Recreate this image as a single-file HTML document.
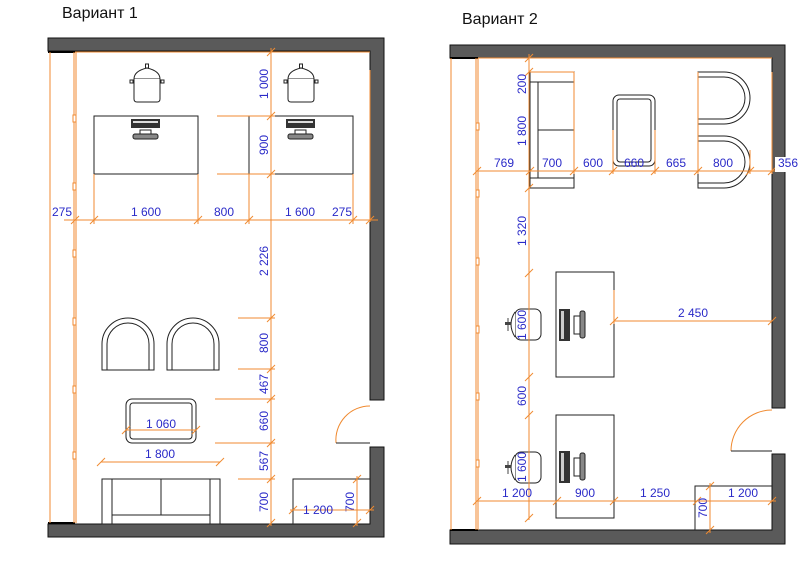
<!DOCTYPE html>
<html><head><meta charset="utf-8"><style>
html,body{margin:0;padding:0;background:#fff;}
svg{display:block;}
text{font-family:"Liberation Sans",sans-serif;}
.t{fill:#2a2ac8;font-size:12px;}
.o{stroke:#f08a30;stroke-width:1;fill:none;}
.k{stroke:#222;stroke-width:1;fill:#fff;}
.w{fill:#5a5a5a;stroke:#111;stroke-width:1;}
</style></head><body>
<svg width="800" height="563" viewBox="0 0 800 563" xmlns="http://www.w3.org/2000/svg">
<defs>
<g id="tick"><line x1="-4" y1="4" x2="4" y2="-4" stroke="#f08a30" stroke-width="1"/></g>
<g id="pot">
<path class="k" d="M-13,8 Q-13,0 0,-3 Q13,0 13,8 Z"/>
<rect x="-1.5" y="-7" width="3" height="4" class="k"/>
<path class="k" d="M-13,8 L-13,28 Q-13,31 -10,31 L10,31 Q13,31 13,28 L13,8"/>
<rect x="-17" y="9" width="3" height="3" class="k"/><rect x="14" y="9" width="3" height="3" class="k"/>
</g>
<g id="pc">
<rect x="-14" y="0" width="29" height="9" fill="#333"/>
<rect x="-12" y="2" width="25" height="2" fill="#ddd"/>
<rect x="-5" y="11" width="11" height="5" class="k"/>
<rect x="-12" y="15" width="25" height="5" rx="2" fill="#888" stroke="#222"/>
</g>
<g id="pcv">
<rect x="0" y="0" width="11" height="32" fill="#333"/>
<rect x="2" y="2" width="3" height="28" fill="#ccc"/>
<rect x="15" y="7" width="6" height="18" class="k"/>
<rect x="21" y="2" width="5" height="27" rx="2" fill="#888" stroke="#222"/>
</g>
<g id="arm">
<path class="k" d="M0,52 L0,26 A26,26 0 0 1 52,26 L52,52 Z"/>
<path fill="none" stroke="#222" d="M5,52 L5,26 A21,21 0 0 1 47,26 L47,52"/>
</g>
<g id="armr">
<path class="k" d="M0,0 L26,0 A26,26 0 0 1 26,52 L0,52 Z"/>
<path fill="none" stroke="#222" d="M0,5 L26,5 A21,21 0 0 1 26,47 L0,47"/>
</g>
<g id="chair">
<rect x="10" y="0" width="26" height="31" rx="6" class="k"/>
<path d="M10,3 Q2,15 10,28" class="k"/>
<rect x="0" y="13" width="6" height="3" fill="#444"/>
<line x1="3" y1="9" x2="3" y2="22" stroke="#444"/>
</g>
</defs>

<!-- ===== Variant 1 ===== -->
<text x="62" y="18" font-size="16" fill="#111">Вариант 1</text>
<!-- walls -->
<path class="w" d="M48,38 L384,38 L384,400 L370,400 L370,51 L48,51 Z"/>
<path class="w" d="M370,447 L384,447 L384,537 L48,537 L48,524 L370,524 Z"/>
<line x1="48" y1="52" x2="75" y2="52" stroke="#000" stroke-width="2"/>
<line x1="48" y1="523" x2="75" y2="523" stroke="#000" stroke-width="2"/>
<!-- window -->
<line class="o" x1="50" y1="52" x2="50" y2="523"/>
<line class="o" x1="74" y1="52" x2="74" y2="523"/>
<line class="o" x1="76" y1="52" x2="76" y2="523"/>
<g fill="#fff" stroke="#f08a30"><rect x="73" y="115" width="3" height="7"/><rect x="73" y="183" width="3" height="7"/><rect x="73" y="250" width="3" height="7"/><rect x="73" y="318" width="3" height="7"/><rect x="73" y="386" width="3" height="7"/><rect x="73" y="452" width="3" height="7"/></g>
<line class="o" x1="75" y1="52" x2="370" y2="52"/>
<line class="o" x1="370" y1="70" x2="370" y2="222"/>
<!-- furniture -->
<use href="#pot" x="147" y="71"/><use href="#pot" x="301" y="71"/>
<rect class="k" x="94" y="116" width="104" height="58"/>
<rect class="k" x="249" y="116" width="104" height="58"/>
<use href="#pc" x="145" y="119"/><use href="#pc" x="300" y="119"/>
<use href="#arm" x="102" y="318"/><use href="#arm" x="167" y="318"/>
<rect class="k" x="126" y="399" width="70" height="44" rx="6"/>
<rect class="k" x="130" y="403" width="62" height="36" rx="3"/>
<rect class="k" x="102" y="479" width="118" height="45"/>
<line stroke="#222" x1="112" y1="479" x2="112" y2="524"/><line stroke="#222" x1="210" y1="479" x2="210" y2="524"/>
<line stroke="#222" x1="112" y1="515" x2="210" y2="515"/><line stroke="#222" x1="161" y1="479" x2="161" y2="515"/>
<path fill="#fff" stroke="#222" d="M293,524 L293,479 L370,479"/>
<!-- door -->
<path class="o" d="M336,443 A34,34 0 0 1 370,406"/>
<line stroke="#222" x1="336" y1="443" x2="370" y2="443"/>
<!-- dims -->
<line class="o" x1="64" y1="220" x2="378" y2="220"/>
<line class="o" x1="94" y1="174" x2="94" y2="224"/><line class="o" x1="198" y1="174" x2="198" y2="224"/>
<line class="o" x1="249" y1="174" x2="249" y2="224"/><line class="o" x1="353" y1="174" x2="353" y2="224"/>
<use href="#tick" x="75" y="220"/><use href="#tick" x="94" y="220"/><use href="#tick" x="198" y="220"/><use href="#tick" x="249" y="220"/><use href="#tick" x="353" y="220"/><use href="#tick" x="370" y="220"/>
<g class="t" text-anchor="middle"><text x="62" y="216">275</text><text x="146" y="216">1 600</text><text x="224" y="216">800</text><text x="300" y="216">1 600</text><text x="342" y="216">275</text></g>
<line class="o" x1="271" y1="48" x2="271" y2="526"/>
<line class="o" x1="217" y1="116" x2="275" y2="116"/><line class="o" x1="217" y1="174" x2="275" y2="174"/>
<line class="o" x1="238" y1="318" x2="275" y2="318"/><line class="o" x1="238" y1="369" x2="275" y2="369"/>
<line class="o" x1="215" y1="399" x2="275" y2="399"/><line class="o" x1="215" y1="443" x2="275" y2="443"/>
<line class="o" x1="238" y1="479" x2="275" y2="479"/>
<use href="#tick" x="271" y="52"/><use href="#tick" x="271" y="116"/><use href="#tick" x="271" y="174"/><use href="#tick" x="271" y="318"/><use href="#tick" x="271" y="369"/><use href="#tick" x="271" y="399"/><use href="#tick" x="271" y="443"/><use href="#tick" x="271" y="479"/><use href="#tick" x="271" y="523"/>
<g class="t" text-anchor="middle">
<text transform="translate(268,84) rotate(-90)">1 000</text>
<text transform="translate(268,145) rotate(-90)">900</text>
<text transform="translate(268,261) rotate(-90)">2 226</text>
<text transform="translate(268,343) rotate(-90)">800</text>
<text transform="translate(268,384) rotate(-90)">467</text>
<text transform="translate(268,421) rotate(-90)">660</text>
<text transform="translate(268,461) rotate(-90)">567</text>
<text transform="translate(268,502) rotate(-90)">700</text>
<text transform="translate(354,502) rotate(-90)">700</text>
</g>
<line class="o" x1="126" y1="430" x2="196" y2="430"/><use href="#tick" x="126" y="430"/><use href="#tick" x="196" y="430"/>
<text class="t" x="161" y="428" text-anchor="middle">1 060</text>
<line class="o" x1="101" y1="462" x2="220" y2="462"/><use href="#tick" x="101" y="462"/><use href="#tick" x="220" y="462"/>
<text class="t" x="160" y="458" text-anchor="middle">1 800</text>
<line class="o" x1="290" y1="510" x2="374" y2="510"/><use href="#tick" x="293" y="510"/><use href="#tick" x="370" y="510"/>
<text class="t" x="318" y="514" text-anchor="middle">1 200</text>
<line class="o" x1="357" y1="476" x2="357" y2="526"/><use href="#tick" x="357" y="479"/><use href="#tick" x="357" y="523"/>

<!-- ===== Variant 2 ===== -->
<text x="462" y="24" font-size="16" fill="#111">Вариант 2</text>
<path class="w" d="M450,45 L785,45 L785,408 L772,408 L772,58 L450,58 Z"/>
<path class="w" d="M772,454 L785,454 L785,544 L450,544 L450,530 L772,530 Z"/>
<line x1="450" y1="58" x2="478" y2="58" stroke="#000" stroke-width="2"/>
<line x1="450" y1="530" x2="478" y2="530" stroke="#000" stroke-width="2"/>
<line class="o" x1="451" y1="58" x2="451" y2="530"/>
<line class="o" x1="476" y1="58" x2="476" y2="530"/>
<line class="o" x1="478" y1="58" x2="478" y2="530"/>
<g fill="#fff" stroke="#f08a30"><rect x="476" y="123" width="3" height="7"/><rect x="476" y="190" width="3" height="7"/><rect x="476" y="258" width="3" height="7"/><rect x="476" y="326" width="3" height="7"/><rect x="476" y="393" width="3" height="7"/><rect x="476" y="460" width="3" height="7"/></g>
<line class="o" x1="478" y1="58" x2="772" y2="58"/>
<line class="o" x1="772" y1="72" x2="772" y2="174"/>
<!-- furniture -->
<rect class="k" x="530" y="72" width="44" height="116"/>
<line stroke="#222" x1="538" y1="82" x2="538" y2="178"/>
<line stroke="#222" x1="530" y1="82" x2="574" y2="82"/><line stroke="#222" x1="530" y1="178" x2="574" y2="178"/>
<line stroke="#222" x1="538" y1="130" x2="574" y2="130"/>
<rect class="k" x="613" y="95" width="42" height="71" rx="6"/>
<rect class="k" x="617" y="99" width="34" height="63" rx="3"/>
<use href="#armr" x="698" y="72"/><use href="#armr" x="698" y="136"/>
<rect class="k" x="556" y="272" width="58" height="105"/>
<rect class="k" x="556" y="415" width="58" height="103"/>
<use href="#pcv" x="559" y="309"/><use href="#pcv" x="559" y="451"/>
<use href="#chair" x="505" y="309"/><use href="#chair" x="505" y="452"/>
<path fill="#fff" stroke="#222" d="M695,530 L695,486 L772,486"/>
<path class="o" d="M731,451 A41,41 0 0 1 772,410"/>
<line stroke="#222" x1="731" y1="451" x2="772" y2="451"/>
<!-- dims -->
<line class="o" x1="477" y1="171" x2="776" y2="171"/>
<line class="o" x1="613" y1="130" x2="613" y2="174"/><line class="o" x1="655" y1="130" x2="655" y2="174"/>
<line class="o" x1="698" y1="72" x2="698" y2="174"/><line class="o" x1="750" y1="150" x2="750" y2="174"/>
<line class="o" x1="574" y1="72" x2="574" y2="174"/>
<use href="#tick" x="477" y="171"/><use href="#tick" x="530" y="171"/><use href="#tick" x="574" y="171"/><use href="#tick" x="613" y="171"/><use href="#tick" x="655" y="171"/><use href="#tick" x="698" y="171"/><use href="#tick" x="750" y="171"/><use href="#tick" x="772" y="171"/>
<rect x="775" y="157" width="24" height="15" fill="#fff"/>
<g class="t" text-anchor="middle"><text x="504" y="167">769</text><text x="552" y="167">700</text><text x="593" y="167">600</text><text x="634" y="167">660</text><text x="676" y="167">665</text><text x="723" y="167">800</text><text x="788" y="167">356</text></g>
<line class="o" x1="529" y1="54" x2="529" y2="520"/>
<line class="o" x1="529" y1="72" x2="574" y2="72"/>
<use href="#tick" x="529" y="58"/><use href="#tick" x="529" y="72"/><use href="#tick" x="529" y="188"/><use href="#tick" x="529" y="273"/><use href="#tick" x="529" y="377"/><use href="#tick" x="529" y="415"/><use href="#tick" x="529" y="518"/>
<g class="t" text-anchor="middle">
<text transform="translate(526,84) rotate(-90)">200</text>
<text transform="translate(526,131) rotate(-90)">1 800</text>
<text transform="translate(526,231) rotate(-90)">1 320</text>
<text transform="translate(526,325) rotate(-90)">1 600</text>
<text transform="translate(526,396) rotate(-90)">600</text>
<text transform="translate(526,467) rotate(-90)">1 600</text>
<text transform="translate(707,508) rotate(-90)">700</text>
</g>
<line class="o" x1="614" y1="321" x2="772" y2="321"/><use href="#tick" x="614" y="321"/><use href="#tick" x="772" y="321"/>
<line class="o" x1="614" y1="290" x2="614" y2="324"/>
<text class="t" x="693" y="317" text-anchor="middle">2 450</text>
<line class="o" x1="477" y1="501" x2="776" y2="501"/>
<use href="#tick" x="477" y="501"/><use href="#tick" x="557" y="501"/><use href="#tick" x="614" y="501"/><use href="#tick" x="697" y="501"/><use href="#tick" x="772" y="501"/>
<g class="t" text-anchor="middle"><text x="517" y="497">1 200</text><text x="585" y="497">900</text><text x="655" y="497">1 250</text><text x="743" y="497">1 200</text></g>
<line class="o" x1="710" y1="483" x2="710" y2="533"/><use href="#tick" x="710" y="486"/><use href="#tick" x="710" y="530"/>
</svg>
</body></html>
